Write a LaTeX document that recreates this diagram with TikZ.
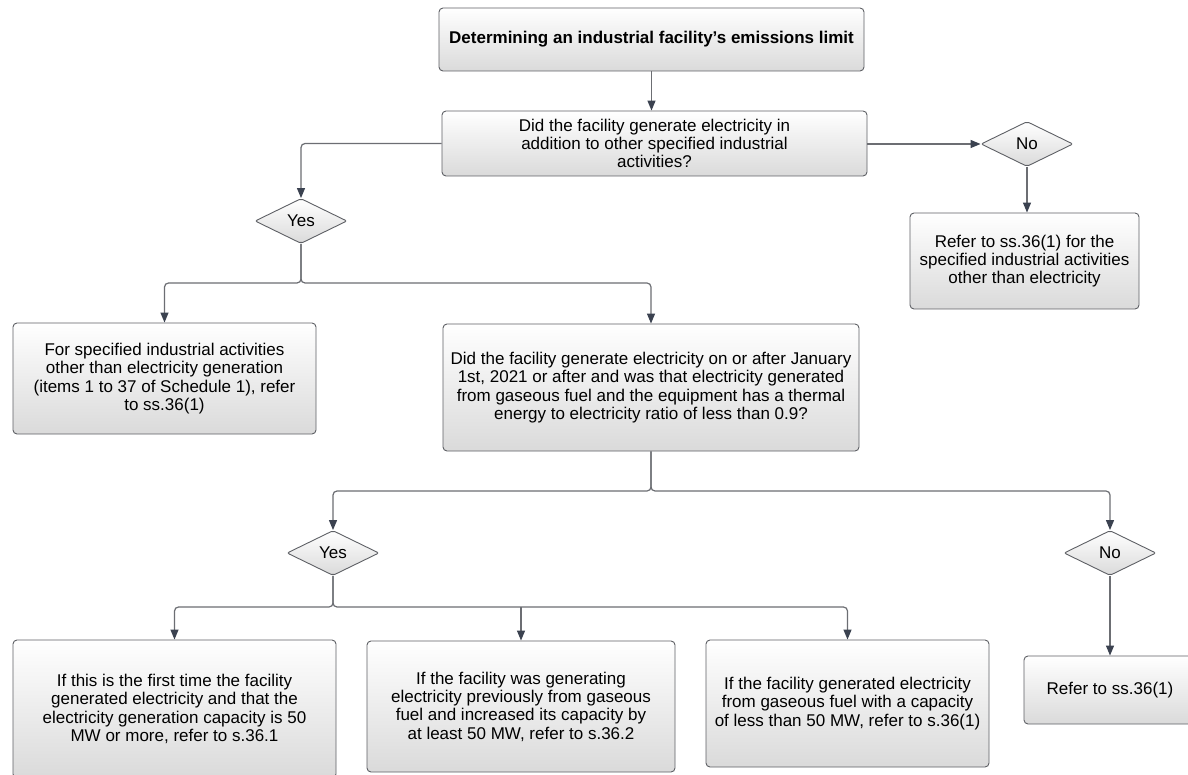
\documentclass[tikz,border=0pt]{standalone}
\usepackage{fontspec}
\setmainfont{Liberation Sans}
\usetikzlibrary{arrows.meta,shapes.geometric}

\definecolor{edgegray}{HTML}{5E6065}
\definecolor{linegray}{HTML}{6C6E73}
\definecolor{tipdark}{HTML}{3B4250}
\definecolor{shadebot}{HTML}{DADADA}

\tikzset{
  flowbox/.style={draw=edgegray, line width=0.9pt, rounded corners=4pt,
    top color=white, bottom color=shadebot, align=center,
    font=\fontsize{17}{18.3}\selectfont, inner sep=0pt},
  decision/.style={shape=diamond, draw=edgegray, line width=0.9pt,
    rounded corners=2pt, top color=white, bottom color=shadebot,
    font=\fontsize{17}{18.3}\selectfont, inner sep=0pt,
    minimum width=92pt, minimum height=45pt},
  conn/.style={draw=linegray, line width=1.2pt, rounded corners=4pt},
  arr/.style={conn, -{Triangle[length=10pt,width=8pt,color=tipdark]}},
}

\begin{document}
\begin{tikzpicture}[x=1pt,y=-1pt]
  \clip (0,0) rectangle (1188,775);
  \fill[white] (0,0) rectangle (1188,775);

  % main question chain
  \node[flowbox, minimum width=425pt, minimum height=63pt] (title) at (651.5,39.5)
    {\bfseries Determining an industrial facility’s emissions limit};
  \node[flowbox, minimum width=425pt, minimum height=65pt] (q1) at (654.5,143.5)
    {Did the facility generate electricity in\\addition to other specified industrial\\activities?};

  \node[decision] (yes1) at (301,221) {Yes};
  \node[decision] (no1) at (1027,144) {No};

  \node[flowbox, minimum width=229pt, minimum height=96pt] (r1) at (1024.5,261)
    {Refer to ss.36(1) for the\\specified industrial activities\\other than electricity};

  \node[flowbox, minimum width=303pt, minimum height=111pt] (a1) at (164.5,378.5)
    {For specified industrial activities\\other than electricity generation\\(items 1 to 37 of Schedule 1), refer\\to ss.36(1)};
  \node[flowbox, minimum width=416pt, minimum height=127pt] (q2) at (651,387.5)
    {Did the facility generate electricity on or after January\\1st, 2021 or after and was that electricity generated\\from gaseous fuel and the equipment has a thermal\\energy to electricity ratio of less than 0.9?};

  \node[decision] (yes2) at (333,553) {Yes};
  \node[decision] (no2) at (1110,553) {No};

  % outcome boxes
  \node[flowbox, minimum width=323pt, minimum height=138pt] (b1) at (174.5,709)
    {If this is the first time the facility\\generated electricity and that the\\electricity generation capacity is 50\\MW or more, refer to s.36.1};
  \node[flowbox, minimum width=308pt, minimum height=131pt] (b2) at (521,706.5)
    {If the facility was generating\\electricity previously from gaseous\\fuel and increased its capacity by\\at least 50 MW, refer to s.36.2};
  \node[flowbox, minimum width=283pt, minimum height=127pt] (b3) at (847.5,703.5)
    {If the facility generated electricity\\from gaseous fuel with a capacity\\of less than 50 MW, refer to s.36(1)};
  \node[flowbox, minimum width=172pt, minimum height=68pt] (b4) at (1110,690)
    {Refer to ss.36(1)};

  % junction points
  \coordinate (j1) at (301,283);
  \coordinate (j2) at (651,491);
  \coordinate (j3) at (333,607);

  % connectors
  \draw[arr] (title.south) -- (title.south |- q1.north);
  \draw[arr] (q1.west) -| (yes1.north);
  \draw[arr] (q1.east |- no1.west) -- (no1.west);
  \draw[arr] (no1.south) -- (no1.south |- r1.north);

  \draw[arr] (yes1.south) -- (j1) -| (a1.north);
  \draw[arr] (yes1.south) -- (j1) -| (q2.north);

  \draw[arr] (q2.south) -- (j2) -| (yes2.north);
  \draw[arr] (q2.south) -- (j2) -| (no2.north);

  \draw[arr] (yes2.south) -- (j3) -| (b1.north);
  \draw[arr] (yes2.south) -- (j3) -| (b3.north);
  \draw[arr] (b2.north |- j3) -- (b2.north);

  \draw[arr] (no2.south) -- (b4.north);
\end{tikzpicture}
\end{document}
